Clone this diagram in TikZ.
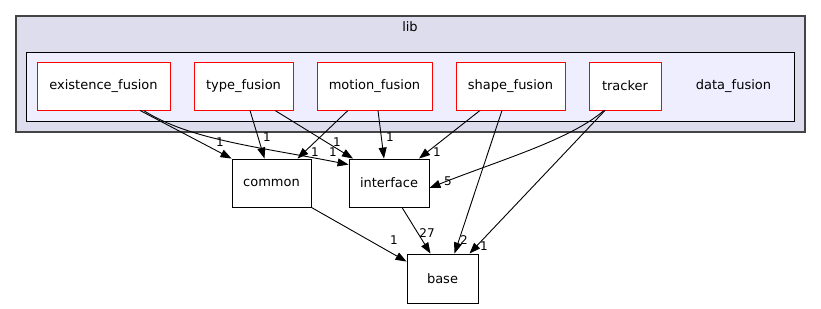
\documentclass[tikz,border=0pt]{standalone}
\usepackage{fontspec}
\setmainfont{DejaVu Sans}
\usetikzlibrary{arrows.meta}
\definecolor{libfill}{HTML}{DDDDEE}
\definecolor{libedge}{HTML}{444444}
\definecolor{dffill}{HTML}{EEEEFF}
\begin{document}
\begin{tikzpicture}[x=1pt,y=-1pt,
  every node/.style={font=\fontsize{13pt}{15pt}\selectfont, inner sep=0pt},
  subdir/.style={draw=red, fill=white, line width=0.9pt, minimum height=48pt},
  dirbox/.style={draw=black, fill=white, line width=0.9pt, minimum height=48pt},
  dep/.style={draw=black, line width=0.9pt, -{Triangle[length=11pt,width=8pt]}},
  cnt/.style={font=\fontsize{12pt}{14pt}\selectfont}]
\useasboundingbox (0,0) rectangle (821,308);

% clusters
\node[draw=libedge, fill=libfill, line width=1.2pt, minimum width=789pt, minimum height=116pt] (lib) at (410.5,74) {};
\node (libl) at (410,27) {lib};
\node[draw=black, fill=dffill, line width=0.9pt, minimum width=768pt, minimum height=69pt] (df) at (410.5,86.5) {};
\node (dfl) at (733.5,86) {data\_fusion};

% sub-directories
\node[subdir, minimum width=133pt] (ef) at (103.5,86) {existence\_fusion};
\node[subdir, minimum width=99pt]  (tf) at (243.5,86) {type\_fusion};
\node[subdir, minimum width=115pt] (mf) at (374.5,86) {motion\_fusion};
\node[subdir, minimum width=109pt] (sf) at (510.5,86) {shape\_fusion};
\node[subdir, minimum width=72pt]  (tr) at (625,86) {tracker};

% external directories
\node[dirbox, minimum width=79pt] (common) at (271.5,183) {common};
\node[dirbox, minimum width=80pt] (iface) at (389,183) {interface};
\node[dirbox, minimum width=71pt, minimum height=49pt] (base) at (442.5,278.5) {base};

% dependencies
\draw[dep] ([xshift=36.5pt]ef.south) -- (common.north west);
\draw[dep] ([xshift=40pt]ef.south) .. controls (190,140) and (260,147) .. ([yshift=-6pt]iface.north west);
\draw[dep] ([xshift=6.5pt]tf.south) -- ([xshift=-7pt]common.north);
\draw[dep] ([xshift=31.5pt]tf.south) -- ([xshift=-36pt]iface.north);
\draw[dep] ([xshift=-26.5pt]mf.south) -- ([xshift=26pt]common.north);
\draw[dep] ([xshift=3.5pt]mf.south) -- ([xshift=-5pt]iface.north);
\draw[dep] ([xshift=-30.5pt]sf.south) -- ([xshift=30pt]iface.north);
\draw[dep] ([xshift=-8.5pt]sf.south) -- ([xshift=12pt]base.north);
\draw[dep] ([xshift=-21pt]tr.south) .. controls (570,140) and (500,160) .. ([yshift=-5pt]iface.east);
\draw[dep] ([xshift=-20pt]tr.south) -- ([xshift=27pt]base.north);
\draw[dep] ([xshift=13pt]iface.south) -- ([xshift=-12pt]base.north);
\draw[dep] (common.south east) -- ([yshift=-8pt]base.north west);

% counts
\node[cnt] (c1) at (220,142) {1};
\node[cnt] (c2) at (267,137) {1};
\node[cnt] (c3) at (337,142) {1};
\node[cnt] (c4) at (315,152) {1};
\node[cnt] (c5) at (333,152) {1};
\node[cnt] (c6) at (390,137) {1};
\node[cnt] (c7) at (437,152) {1};
\node[cnt] (c8) at (448,181) {5};
\node[cnt] (c9) at (427,233) {27};
\node[cnt] (c10) at (464,240) {2};
\node[cnt] (c11) at (484,246) {1};
\node[cnt] (c12) at (394,240) {1};
\end{tikzpicture}
\end{document}
